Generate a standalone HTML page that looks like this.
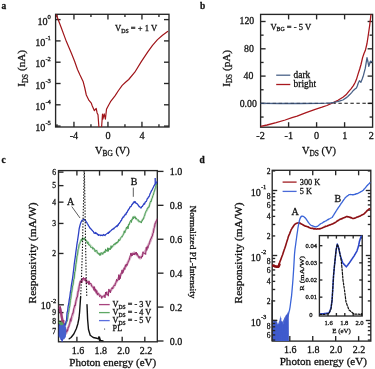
<!DOCTYPE html>
<html><head><meta charset="utf-8"><style>
html,body{margin:0;padding:0;background:#fff;width:375px;height:369px;overflow:hidden}
svg{display:block;font-family:"Liberation Serif",serif}
text{fill:#111;stroke:#111;stroke-width:0.28px}
svg{will-change:transform}
</style></head><body>
<svg width="375" height="369" viewBox="0 0 375 369">
<rect width="375" height="369" fill="#fff"/>
<rect x="55.60" y="14.30" width="113.40" height="112.70" fill="none" stroke="#262626" stroke-width="1.35"/>
<line x1="56.95" y1="127.00" x2="56.95" y2="124.20" stroke="#262626" stroke-width="1.35" />
<line x1="56.95" y1="14.30" x2="56.95" y2="17.10" stroke="#262626" stroke-width="1.35" />
<line x1="73.95" y1="127.00" x2="73.95" y2="121.80" stroke="#262626" stroke-width="1.35" />
<line x1="73.95" y1="14.30" x2="73.95" y2="19.50" stroke="#262626" stroke-width="1.35" />
<line x1="90.95" y1="127.00" x2="90.95" y2="124.20" stroke="#262626" stroke-width="1.35" />
<line x1="90.95" y1="14.30" x2="90.95" y2="17.10" stroke="#262626" stroke-width="1.35" />
<line x1="107.95" y1="127.00" x2="107.95" y2="121.80" stroke="#262626" stroke-width="1.35" />
<line x1="107.95" y1="14.30" x2="107.95" y2="19.50" stroke="#262626" stroke-width="1.35" />
<line x1="124.95" y1="127.00" x2="124.95" y2="124.20" stroke="#262626" stroke-width="1.35" />
<line x1="124.95" y1="14.30" x2="124.95" y2="17.10" stroke="#262626" stroke-width="1.35" />
<line x1="141.95" y1="127.00" x2="141.95" y2="121.80" stroke="#262626" stroke-width="1.35" />
<line x1="141.95" y1="14.30" x2="141.95" y2="19.50" stroke="#262626" stroke-width="1.35" />
<line x1="158.95" y1="127.00" x2="158.95" y2="124.20" stroke="#262626" stroke-width="1.35" />
<line x1="158.95" y1="14.30" x2="158.95" y2="17.10" stroke="#262626" stroke-width="1.35" />
<line x1="55.60" y1="19.60" x2="60.60" y2="19.60" stroke="#262626" stroke-width="1.35" />
<line x1="169.00" y1="19.60" x2="164.00" y2="19.60" stroke="#262626" stroke-width="1.35" />
<line x1="55.60" y1="40.90" x2="60.60" y2="40.90" stroke="#262626" stroke-width="1.35" />
<line x1="169.00" y1="40.90" x2="164.00" y2="40.90" stroke="#262626" stroke-width="1.35" />
<line x1="55.60" y1="62.20" x2="60.60" y2="62.20" stroke="#262626" stroke-width="1.35" />
<line x1="169.00" y1="62.20" x2="164.00" y2="62.20" stroke="#262626" stroke-width="1.35" />
<line x1="55.60" y1="83.50" x2="60.60" y2="83.50" stroke="#262626" stroke-width="1.35" />
<line x1="169.00" y1="83.50" x2="164.00" y2="83.50" stroke="#262626" stroke-width="1.35" />
<line x1="55.60" y1="104.80" x2="60.60" y2="104.80" stroke="#262626" stroke-width="1.35" />
<line x1="169.00" y1="104.80" x2="164.00" y2="104.80" stroke="#262626" stroke-width="1.35" />
<line x1="55.60" y1="126.10" x2="60.60" y2="126.10" stroke="#262626" stroke-width="1.35" />
<line x1="169.00" y1="126.10" x2="164.00" y2="126.10" stroke="#262626" stroke-width="1.35" />
<text x="50.9" y="24.60" font-size="10.2" text-anchor="end">10<tspan font-size="6.6" dy="-5.9">0</tspan></text>
<text x="50.9" y="45.90" font-size="10.2" text-anchor="end">10<tspan font-size="6.6" dy="-5.9">-1</tspan></text>
<text x="50.9" y="67.20" font-size="10.2" text-anchor="end">10<tspan font-size="6.6" dy="-5.9">-2</tspan></text>
<text x="50.9" y="88.50" font-size="10.2" text-anchor="end">10<tspan font-size="6.6" dy="-5.9">-3</tspan></text>
<text x="50.9" y="109.80" font-size="10.2" text-anchor="end">10<tspan font-size="6.6" dy="-5.9">-4</tspan></text>
<text x="50.9" y="131.10" font-size="10.2" text-anchor="end">10<tspan font-size="6.6" dy="-5.9">-5</tspan></text>
<text x="73.95" y="139.30" font-size="10.2" text-anchor="middle" >-4</text>
<text x="107.95" y="139.30" font-size="10.2" text-anchor="middle" >0</text>
<text x="141.95" y="139.30" font-size="10.2" text-anchor="middle" >4</text>
<text x="95.0" y="153.6" font-size="10.4">V<tspan font-size="7.4" dy="2.2">BG</tspan><tspan dy="-2.2"> (V)</tspan></text>
<text transform="translate(25.2,86.8) rotate(-90)" font-size="11.2">I<tspan font-size="7.2" dy="2.6">DS</tspan><tspan dy="-2.6"> (nA)</tspan></text>
<text x="115" y="31" font-size="8.6">V<tspan font-size="5.8" dy="1.6">DS</tspan><tspan dy="-1.6"> = + 1 V</tspan></text>
<text x="1.40" y="8.70" font-size="9.4" text-anchor="start" font-weight="bold" >a</text>
<clipPath id="ca"><rect x="55.6" y="14.3" width="113.4" height="112.7"/></clipPath>
<polyline points="56.30,14.80 61.00,27.00 66.40,41.60 71.30,53.00 74.50,61.00 77.50,69.50 80.00,75.00 83.10,81.40 84.80,88.00 86.30,95.00 89.00,100.40 91.30,103.10 92.20,105.70 94.40,110.70 96.20,108.40 97.10,112.90 98.00,114.70 98.90,127.00" fill="none" stroke="#a0151a" stroke-width="1.2" stroke-linejoin="round" stroke-linecap="round" clip-path="url(#ca)"/>
<polyline points="101.60,127.00 102.50,114.20 102.90,119.20 104.20,113.80 105.40,119.20 106.50,109.30 108.30,105.70 110.50,101.70 115.00,95.90 118.50,90.50 122.20,85.40 125.50,82.30 128.70,79.50 134.80,72.20 141.30,61.60 147.80,51.80 152.50,45.30 157.50,39.60 162.50,35.20 167.60,31.50" fill="none" stroke="#a0151a" stroke-width="1.2" stroke-linejoin="round" stroke-linecap="round" clip-path="url(#ca)"/>
<rect x="260.60" y="14.40" width="112.00" height="112.80" fill="none" stroke="#262626" stroke-width="1.35"/>
<line x1="288.60" y1="127.20" x2="288.60" y2="122.20" stroke="#262626" stroke-width="1.35" />
<line x1="288.60" y1="14.40" x2="288.60" y2="19.40" stroke="#262626" stroke-width="1.35" />
<line x1="316.60" y1="127.20" x2="316.60" y2="122.20" stroke="#262626" stroke-width="1.35" />
<line x1="316.60" y1="14.40" x2="316.60" y2="19.40" stroke="#262626" stroke-width="1.35" />
<line x1="344.60" y1="127.20" x2="344.60" y2="122.20" stroke="#262626" stroke-width="1.35" />
<line x1="344.60" y1="14.40" x2="344.60" y2="19.40" stroke="#262626" stroke-width="1.35" />
<line x1="260.60" y1="117.05" x2="263.60" y2="117.05" stroke="#262626" stroke-width="1.35" />
<line x1="372.60" y1="117.05" x2="369.60" y2="117.05" stroke="#262626" stroke-width="1.35" />
<line x1="260.60" y1="103.40" x2="265.60" y2="103.40" stroke="#262626" stroke-width="1.35" />
<line x1="372.60" y1="103.40" x2="367.60" y2="103.40" stroke="#262626" stroke-width="1.35" />
<line x1="260.60" y1="89.75" x2="263.60" y2="89.75" stroke="#262626" stroke-width="1.35" />
<line x1="372.60" y1="89.75" x2="369.60" y2="89.75" stroke="#262626" stroke-width="1.35" />
<line x1="260.60" y1="76.10" x2="265.60" y2="76.10" stroke="#262626" stroke-width="1.35" />
<line x1="372.60" y1="76.10" x2="367.60" y2="76.10" stroke="#262626" stroke-width="1.35" />
<line x1="260.60" y1="62.45" x2="263.60" y2="62.45" stroke="#262626" stroke-width="1.35" />
<line x1="372.60" y1="62.45" x2="369.60" y2="62.45" stroke="#262626" stroke-width="1.35" />
<line x1="260.60" y1="48.80" x2="265.60" y2="48.80" stroke="#262626" stroke-width="1.35" />
<line x1="372.60" y1="48.80" x2="367.60" y2="48.80" stroke="#262626" stroke-width="1.35" />
<line x1="260.60" y1="35.15" x2="263.60" y2="35.15" stroke="#262626" stroke-width="1.35" />
<line x1="372.60" y1="35.15" x2="369.60" y2="35.15" stroke="#262626" stroke-width="1.35" />
<line x1="260.60" y1="21.50" x2="265.60" y2="21.50" stroke="#262626" stroke-width="1.35" />
<line x1="372.60" y1="21.50" x2="367.60" y2="21.50" stroke="#262626" stroke-width="1.35" />
<text x="254.20" y="24.30" font-size="9.8" text-anchor="end" >120</text>
<text x="253.80" y="51.60" font-size="9.8" text-anchor="end" >80</text>
<text x="253.40" y="79.40" font-size="9.8" text-anchor="end" >40</text>
<text x="256.80" y="106.70" font-size="9.8" text-anchor="end" >0.00</text>
<text x="260.60" y="139.30" font-size="10.2" text-anchor="middle" >-2</text>
<text x="288.80" y="139.30" font-size="10.2" text-anchor="middle" >-1</text>
<text x="316.60" y="139.30" font-size="10.2" text-anchor="middle" >0</text>
<text x="344.80" y="139.30" font-size="10.2" text-anchor="middle" >1</text>
<text x="371.20" y="139.30" font-size="10.2" text-anchor="middle" >2</text>
<text x="302.0" y="153.8" font-size="10.4">V<tspan font-size="7.4" dy="2.2">DS</tspan><tspan dy="-2.2"> (V)</tspan></text>
<text transform="translate(229.8,86.8) rotate(-90)" font-size="11.2">I<tspan font-size="7.2" dy="2.6">DS</tspan><tspan dy="-2.6"> (pA)</tspan></text>
<text x="270.4" y="29.6" font-size="8.6">V<tspan font-size="5.8" dy="1.6">BG</tspan><tspan dy="-1.6"> = - 5 V</tspan></text>
<text x="200.00" y="9.10" font-size="9.4" text-anchor="start" font-weight="bold" >b</text>
<line x1="276.20" y1="75.20" x2="290.30" y2="75.20" stroke="#4a6288" stroke-width="1.3" />
<line x1="276.20" y1="84.50" x2="290.30" y2="84.50" stroke="#a8181e" stroke-width="1.3" />
<text x="293.60" y="77.80" font-size="9.4" text-anchor="start" >dark</text>
<text x="293.60" y="86.90" font-size="9.4" text-anchor="start" >bright</text>
<clipPath id="cb"><rect x="260.6" y="14.4" width="112" height="112.8"/></clipPath>
<polyline points="260.50,126.40 267.10,125.00 276.10,122.70 285.20,120.00 292.00,117.70 297.10,116.20 306.10,112.60 315.20,109.30 322.00,107.20 326.90,105.50 333.20,102.70 338.00,100.30 342.90,97.20 346.00,94.80 348.60,91.60 351.00,88.80 353.40,85.60 355.00,82.80 356.40,79.60 358.20,73.60 359.70,69.00 361.00,64.50 362.60,57.60 364.00,53.50 365.30,50.60 367.00,43.50 368.30,35.00 369.60,26.00 370.80,15.80 371.30,12.00" fill="none" stroke="#a8181e" stroke-width="1.3" stroke-linejoin="round" stroke-linecap="round" clip-path="url(#cb)"/>
<polyline points="260.50,103.40 280.00,103.50 300.00,103.50 320.00,103.30 326.00,103.20 330.40,103.00 334.00,102.40 337.30,101.70 340.00,100.90 342.90,100.00 346.00,97.90 347.80,96.40 349.80,94.60 351.60,92.60 353.40,90.40 355.00,89.00 356.40,88.00 357.30,86.00 358.20,83.20 359.40,80.80 360.20,81.50 360.90,82.30 362.20,79.00 363.50,75.20 365.30,68.20 367.00,57.60 368.00,62.00 368.80,66.40 370.50,61.10 372.60,62.00" fill="none" stroke="#4a6288" stroke-width="1.3" stroke-linejoin="round" stroke-linecap="round" clip-path="url(#cb)"/>
<line x1="260.60" y1="103.30" x2="334.00" y2="103.30" stroke="#1a2233" stroke-width="1.1" stroke-dasharray="3.4,2.6" stroke-opacity="0.55"/>
<line x1="334.00" y1="103.30" x2="372.60" y2="103.30" stroke="#111" stroke-width="1.1" stroke-dasharray="3.4,2.6" stroke-dashoffset="1.6"/>
<rect x="58.50" y="170.60" width="98.80" height="171.20" fill="none" stroke="#262626" stroke-width="1.35"/>
<line x1="76.90" y1="341.80" x2="76.90" y2="336.80" stroke="#262626" stroke-width="1.35" />
<line x1="76.90" y1="170.60" x2="76.90" y2="175.60" stroke="#262626" stroke-width="1.35" />
<text x="78.10" y="353.50" font-size="10.0" text-anchor="middle" >1.6</text>
<line x1="99.54" y1="341.80" x2="99.54" y2="336.80" stroke="#262626" stroke-width="1.35" />
<line x1="99.54" y1="170.60" x2="99.54" y2="175.60" stroke="#262626" stroke-width="1.35" />
<text x="100.74" y="353.50" font-size="10.0" text-anchor="middle" >1.8</text>
<line x1="122.18" y1="341.80" x2="122.18" y2="336.80" stroke="#262626" stroke-width="1.35" />
<line x1="122.18" y1="170.60" x2="122.18" y2="175.60" stroke="#262626" stroke-width="1.35" />
<text x="123.38" y="353.50" font-size="10.0" text-anchor="middle" >2.0</text>
<line x1="144.82" y1="341.80" x2="144.82" y2="336.80" stroke="#262626" stroke-width="1.35" />
<line x1="144.82" y1="170.60" x2="144.82" y2="175.60" stroke="#262626" stroke-width="1.35" />
<text x="146.02" y="353.50" font-size="10.0" text-anchor="middle" >2.2</text>
<line x1="58.50" y1="172.13" x2="63.50" y2="172.13" stroke="#262626" stroke-width="1.35" />
<text x="56.00" y="174.73" font-size="7.6" text-anchor="end" >6</text>
<line x1="58.50" y1="185.63" x2="63.50" y2="185.63" stroke="#262626" stroke-width="1.35" />
<text x="56.00" y="188.23" font-size="7.6" text-anchor="end" >5</text>
<line x1="58.50" y1="202.15" x2="63.50" y2="202.15" stroke="#262626" stroke-width="1.35" />
<text x="56.00" y="204.75" font-size="7.6" text-anchor="end" >4</text>
<line x1="58.50" y1="223.45" x2="63.50" y2="223.45" stroke="#262626" stroke-width="1.35" />
<text x="56.00" y="226.05" font-size="7.6" text-anchor="end" >3</text>
<line x1="58.50" y1="253.47" x2="63.50" y2="253.47" stroke="#262626" stroke-width="1.35" />
<text x="56.00" y="256.07" font-size="7.6" text-anchor="end" >2</text>
<line x1="58.50" y1="312.60" x2="63.50" y2="312.60" stroke="#262626" stroke-width="1.35" />
<text x="56.00" y="315.20" font-size="7.6" text-anchor="end" >9</text>
<line x1="58.50" y1="321.32" x2="63.50" y2="321.32" stroke="#262626" stroke-width="1.35" />
<text x="56.00" y="323.92" font-size="7.6" text-anchor="end" >8</text>
<line x1="58.50" y1="331.21" x2="63.50" y2="331.21" stroke="#262626" stroke-width="1.35" />
<text x="56.00" y="333.81" font-size="7.6" text-anchor="end" >7</text>
<line x1="58.50" y1="304.80" x2="63.90" y2="304.80" stroke="#262626" stroke-width="1.35" />
<text x="56.2" y="309.40" font-size="10" text-anchor="end">10<tspan font-size="6.6" dy="-6.3">-2</tspan></text>
<line x1="157.30" y1="341.00" x2="163.50" y2="341.00" stroke="#262626" stroke-width="1.35" />
<text x="169.80" y="344.50" font-size="10.0" text-anchor="start" >0.0</text>
<line x1="157.30" y1="307.08" x2="163.50" y2="307.08" stroke="#262626" stroke-width="1.35" />
<text x="169.80" y="310.58" font-size="10.0" text-anchor="start" >0.2</text>
<line x1="157.30" y1="273.16" x2="163.50" y2="273.16" stroke="#262626" stroke-width="1.35" />
<text x="169.80" y="276.66" font-size="10.0" text-anchor="start" >0.4</text>
<line x1="157.30" y1="239.24" x2="163.50" y2="239.24" stroke="#262626" stroke-width="1.35" />
<text x="169.80" y="242.74" font-size="10.0" text-anchor="start" >0.6</text>
<line x1="157.30" y1="205.32" x2="163.50" y2="205.32" stroke="#262626" stroke-width="1.35" />
<text x="169.80" y="208.82" font-size="10.0" text-anchor="start" >0.8</text>
<line x1="157.30" y1="171.40" x2="163.50" y2="171.40" stroke="#262626" stroke-width="1.35" />
<text x="169.80" y="174.90" font-size="10.0" text-anchor="start" >1.0</text>
<text transform="translate(35.9,303.4) rotate(-90)" font-size="9.7" textLength="101" lengthAdjust="spacingAndGlyphs">Responsivity (mA/W)</text>
<text transform="translate(189.6,205.4) rotate(90)" font-size="9" textLength="93" lengthAdjust="spacingAndGlyphs">Normalized PL-Intensity</text>
<text x="69.3" y="365.5" font-size="10.4" textLength="86.9" lengthAdjust="spacingAndGlyphs">Photon energy (eV)</text>
<text x="1.40" y="163.20" font-size="9.4" text-anchor="start" font-weight="bold" >c</text>
<text x="67.00" y="204.60" font-size="10.0" text-anchor="start" >A</text>
<line x1="71.80" y1="206.60" x2="80.00" y2="218.00" stroke="#333" stroke-width="0.8" />
<text x="130.80" y="184.60" font-size="10.0" text-anchor="start" >B</text>
<line x1="133.30" y1="187.60" x2="133.30" y2="196.80" stroke="#333" stroke-width="0.8" />
<line x1="99.00" y1="304.60" x2="109.70" y2="304.60" stroke="#a8447e" stroke-width="1.3" />
<text x="112.6" y="307.10" font-size="8.2">V<tspan font-size="5.6" dy="1.6">DS</tspan><tspan dy="-1.6"> = - 3 V</tspan></text>
<line x1="99.00" y1="312.60" x2="109.70" y2="312.60" stroke="#5ea864" stroke-width="1.3" />
<text x="112.6" y="315.10" font-size="8.2">V<tspan font-size="5.6" dy="1.6">DS</tspan><tspan dy="-1.6"> = - 4 V</tspan></text>
<line x1="99.00" y1="320.60" x2="109.70" y2="320.60" stroke="#5a6ede" stroke-width="1.3" />
<text x="112.6" y="323.10" font-size="8.2">V<tspan font-size="5.6" dy="1.6">DS</tspan><tspan dy="-1.6"> = - 5 V</tspan></text>
<circle cx="104.6" cy="329" r="0.6" fill="#222"/>
<text x="112.60" y="331.00" font-size="8.2" text-anchor="start" >PL</text>
<clipPath id="cc"><rect x="58.5" y="170.6" width="98.8" height="171.2"/></clipPath>
<polyline points="58.80,306.25 59.35,306.94 59.90,307.78 60.45,309.31 61.00,311.87 61.55,315.25 62.10,318.00 62.65,320.67 63.20,323.11 63.75,325.75 64.30,328.50 64.85,331.10 65.40,332.25 65.95,333.40 66.50,332.17 67.05,330.70 67.60,329.24 68.15,327.80 68.70,326.36 69.25,324.89 69.80,323.40 70.35,321.92 70.90,320.38 71.45,318.60 72.00,316.81 72.55,315.03 73.10,313.08 73.65,310.83 74.20,308.57 74.75,306.32 75.30,304.08 75.85,301.85 76.40,299.63 76.95,297.35 77.50,294.58 78.05,291.81 78.60,289.04 79.15,286.27 79.70,283.79 80.25,282.65 80.80,281.50 81.35,281.06 81.90,280.62 82.45,280.24 83.00,280.02 83.55,279.80 84.10,279.58 84.65,279.36 85.20,279.63 85.75,280.07 86.30,280.52 86.85,280.97 87.40,281.42 87.95,281.89 88.50,282.37 89.05,282.84 89.60,283.32 90.15,283.80 90.70,284.35 91.25,285.05 91.80,285.74 92.35,286.43 92.90,287.13 93.45,287.82 94.00,288.52 94.55,289.21 95.10,289.90 95.65,290.60 96.20,291.29 96.75,291.98 97.30,292.60 97.85,293.15 98.40,293.70 98.95,294.25 99.50,294.80 100.05,295.35 100.60,295.90 101.15,296.45 101.70,297.00 102.25,296.96 102.80,296.59 103.35,296.22 103.90,295.85 104.45,295.48 105.00,295.11 105.55,294.74 106.10,294.37 106.65,294.00 107.20,293.54 107.75,293.04 108.30,292.54 108.85,292.04 109.40,291.54 109.95,291.05 110.50,290.45 111.05,289.85 111.60,289.25 112.15,288.65 112.70,288.05 113.25,287.45 113.80,286.52 114.35,285.55 114.90,284.58 115.45,283.62 116.00,282.65 116.55,281.68 117.10,280.71 117.65,279.74 118.20,278.78 118.75,277.86 119.30,276.95 119.85,276.04 120.40,275.14 120.95,274.23 121.50,273.32 122.05,272.42 122.60,271.52 123.15,270.63 123.70,269.73 124.25,268.84 124.80,267.94 125.35,267.05 125.90,266.15 126.45,265.19 127.00,264.07 127.55,262.95 128.10,261.83 128.65,260.71 129.20,259.57 129.75,258.38 130.30,257.18 130.85,255.99 131.40,254.80 131.95,254.31 132.50,253.83 133.05,253.34 133.60,252.85 134.15,252.61 134.70,253.02 135.25,253.44 135.80,253.85 136.35,254.35 136.90,254.90 137.45,255.45 138.00,256.00 138.55,256.57 139.10,257.15 139.65,257.72 140.20,258.29 140.75,257.89 141.30,256.94 141.85,255.99 142.40,255.04 142.95,254.09 143.50,253.36 144.05,252.65 144.60,251.94 145.15,251.24 145.70,250.53 146.25,249.49 146.80,248.38 147.35,247.26 147.90,246.15 148.45,245.04 149.00,243.93 149.55,242.81 150.10,241.70 150.65,240.21 151.20,238.71 151.75,237.22 152.30,235.57 152.85,233.18 153.40,230.80 153.95,228.66 154.50,226.51 155.05,224.37 155.60,222.68 156.15,221.81 156.70,220.89 157.25,219.74" fill="none" stroke="#a03a74" stroke-width="2.6" stroke-linejoin="round" stroke-linecap="round" stroke-opacity="0.4" clip-path="url(#cc)"/>
<polyline points="58.80,308.62 59.35,307.62 59.90,312.17 60.45,306.67 61.00,313.42 61.55,312.81 62.10,320.76 62.65,319.92 63.20,326.19 63.75,320.02 64.30,333.46 64.85,328.76 65.40,335.08 65.95,330.82 66.50,332.17 67.05,329.56 67.60,331.24 68.15,327.12 68.70,327.29 69.25,324.81 69.80,323.22 70.35,318.69 70.90,321.35 71.45,316.68 72.00,315.36 72.55,313.06 73.10,313.48 73.65,308.90 74.20,307.75 74.75,304.94 75.30,305.70 75.85,301.24 76.40,299.14 76.95,296.90 77.50,297.01 78.05,291.07 78.60,291.28 79.15,286.51 79.70,284.02 80.25,280.81 80.80,282.50 81.35,280.12 81.90,282.95 82.45,278.01 83.00,279.87 83.55,277.36 84.10,278.80 84.65,278.63 85.20,281.10 85.75,277.92 86.30,283.75 86.85,281.53 87.40,282.69 87.95,281.59 88.50,284.48 89.05,280.83 89.60,284.45 90.15,283.92 90.70,283.05 91.25,284.20 91.80,286.54 92.35,287.01 92.90,286.98 93.45,286.90 94.00,290.37 94.55,286.67 95.10,291.41 95.65,289.02 96.20,293.39 96.75,290.52 97.30,295.18 97.85,293.09 98.40,294.00 98.95,293.95 99.50,296.74 100.05,296.33 100.60,295.37 101.15,296.02 101.70,298.45 102.25,296.38 102.80,296.86 103.35,296.30 103.90,295.90 104.45,295.08 105.00,297.86 105.55,292.02 106.10,294.56 106.65,291.74 107.20,295.07 107.75,294.12 108.30,296.17 108.85,288.95 109.40,291.75 109.95,290.33 110.50,292.88 111.05,289.42 111.60,288.88 112.15,287.49 112.70,288.98 113.25,286.47 113.80,286.17 114.35,284.94 114.90,285.78 115.45,283.02 116.00,282.74 116.55,279.32 117.10,281.20 117.65,280.21 118.20,280.02 118.75,274.64 119.30,280.07 119.85,275.34 120.40,278.60 120.95,273.32 121.50,273.60 122.05,269.85 122.60,273.49 123.15,272.37 123.70,269.38 124.25,267.70 124.80,269.57 125.35,264.81 125.90,266.70 126.45,263.99 127.00,265.47 127.55,263.74 128.10,262.19 128.65,260.74 129.20,260.06 129.75,257.34 130.30,255.47 130.85,252.93 131.40,256.10 131.95,253.25 132.50,255.61 133.05,253.38 133.60,254.85 134.15,253.10 134.70,255.05 135.25,252.55 135.80,254.05 136.35,252.02 136.90,255.10 137.45,253.54 138.00,256.40 138.55,256.14 139.10,258.26 139.65,256.59 140.20,256.80 140.75,257.42 141.30,258.24 141.85,256.17 142.40,257.01 142.95,251.77 143.50,253.26 144.05,253.90 144.60,253.74 145.15,252.84 145.70,254.54 146.25,247.23 146.80,250.37 147.35,246.44 147.90,248.32 148.45,245.20 149.00,244.51 149.55,242.45 150.10,240.74 150.65,238.81 151.20,238.70 151.75,236.40 152.30,236.30 152.85,233.52 153.40,232.97 153.95,228.64 154.50,227.53 155.05,223.23 155.60,223.34 156.15,220.78 156.70,220.99 157.25,218.82" fill="none" stroke="#98306e" stroke-width="1.0" stroke-linejoin="round" stroke-linecap="round" clip-path="url(#cc)"/>
<polyline points="58.80,321.24 59.35,321.91 59.90,322.57 60.45,323.24 61.00,323.56 61.55,323.85 62.10,324.13 62.65,324.42 63.20,324.93 63.75,325.52 64.30,325.95 64.85,325.68 65.40,325.40 65.95,323.78 66.50,322.17 67.05,320.43 67.60,317.44 68.15,314.44 68.70,311.45 69.25,308.46 69.80,305.08 70.35,301.36 70.90,297.65 71.45,293.94 72.00,290.67 72.55,287.44 73.10,284.22 73.65,281.04 74.20,277.86 74.75,274.06 75.30,269.90 75.85,265.74 76.40,261.75 76.95,258.04 77.50,254.33 78.05,250.61 78.60,247.96 79.15,245.71 79.70,243.45 80.25,241.34 80.80,240.69 81.35,240.04 81.90,239.39 82.45,238.73 83.00,238.27 83.55,238.68 84.10,239.09 84.65,239.50 85.20,239.91 85.75,240.31 86.30,240.83 86.85,241.44 87.40,242.06 87.95,242.67 88.50,243.28 89.05,243.89 89.60,244.50 90.15,245.11 90.70,245.72 91.25,246.33 91.80,246.94 92.35,247.56 92.90,248.17 93.45,248.78 94.00,249.39 94.55,250.00 95.10,250.59 95.65,251.08 96.20,251.58 96.75,252.07 97.30,252.57 97.85,253.06 98.40,253.33 98.95,253.51 99.50,253.68 100.05,253.86 100.60,254.04 101.15,254.16 101.70,253.75 102.25,253.34 102.80,252.93 103.35,252.51 103.90,252.10 104.45,251.72 105.00,251.42 105.55,251.12 106.10,250.82 106.65,250.52 107.20,250.22 107.75,249.92 108.30,249.62 108.85,249.28 109.40,248.86 109.95,248.44 110.50,248.02 111.05,247.60 111.60,247.17 112.15,246.75 112.70,246.33 113.25,245.88 113.80,245.39 114.35,244.91 114.90,244.42 115.45,243.93 116.00,243.45 116.55,242.96 117.10,242.48 117.65,241.87 118.20,241.20 118.75,240.52 119.30,239.85 119.85,239.17 120.40,238.50 120.95,237.82 121.50,237.15 122.05,236.31 122.60,235.38 123.15,234.45 123.70,233.53 124.25,232.60 124.80,231.67 125.35,230.73 125.90,229.79 126.45,228.85 127.00,227.91 127.55,226.97 128.10,226.03 128.65,225.09 129.20,224.17 129.75,223.25 130.30,222.33 130.85,221.42 131.40,220.50 131.95,219.66 132.50,218.90 133.05,218.15 133.60,217.40 134.15,216.64 134.70,216.67 135.25,217.35 135.80,218.02 136.35,218.70 136.90,219.38 137.45,219.99 138.00,220.59 138.55,221.18 139.10,221.78 139.65,222.00 140.20,222.00 140.75,222.00 141.30,221.32 141.85,220.57 142.40,219.82 142.95,219.07 143.50,218.32 144.05,217.57 144.60,215.25 145.15,213.44 145.70,212.44 146.25,211.44 146.80,210.43 147.35,209.43 147.90,208.43 148.45,207.42 149.00,206.33 149.55,204.83 150.10,203.33 150.65,201.83 151.20,200.33 151.75,198.83 152.30,197.30 152.85,195.62 153.40,193.95 153.95,192.28 154.50,190.60 155.05,189.24 155.60,187.95 156.15,186.65 156.70,185.59 157.25,184.62" fill="none" stroke="#4e9a56" stroke-width="2.2" stroke-linejoin="round" stroke-linecap="round" stroke-opacity="0.3" clip-path="url(#cc)"/>
<polyline points="58.80,322.56 59.35,322.35 59.90,325.36 60.45,322.23 61.00,327.50 61.55,321.22 62.10,323.85 62.65,321.68 63.20,325.57 63.75,325.67 64.30,326.84 64.85,324.54 65.40,324.32 65.95,323.36 66.50,322.49 67.05,321.41 67.60,319.58 68.15,314.82 68.70,312.25 69.25,308.45 69.80,305.96 70.35,300.67 70.90,298.25 71.45,293.24 72.00,290.76 72.55,286.04 73.10,284.92 73.65,279.52 74.20,278.68 74.75,271.77 75.30,271.32 75.85,264.30 76.40,262.20 76.95,256.03 77.50,255.16 78.05,249.67 78.60,248.42 79.15,244.51 79.70,243.76 80.25,242.26 80.80,241.45 81.35,239.14 81.90,241.01 82.45,237.69 83.00,239.70 83.55,238.44 84.10,239.64 84.65,237.68 85.20,240.13 85.75,239.88 86.30,241.12 86.85,241.17 87.40,243.68 87.95,241.85 88.50,245.17 89.05,244.33 89.60,245.61 90.15,245.46 90.70,247.55 91.25,247.66 91.80,247.31 92.35,247.21 92.90,249.30 93.45,247.78 94.00,248.43 94.55,248.99 95.10,251.77 95.65,250.44 96.20,250.70 96.75,249.93 97.30,253.10 97.85,252.65 98.40,254.23 98.95,253.20 99.50,255.42 100.05,253.43 100.60,255.38 101.15,252.41 101.70,253.28 102.25,253.12 102.80,254.47 103.35,252.47 103.90,253.11 104.45,251.34 105.00,252.86 105.55,248.92 106.10,251.12 106.65,249.97 107.20,251.46 107.75,247.70 108.30,251.40 108.85,248.05 109.40,249.58 109.95,248.41 110.50,249.63 111.05,245.63 111.60,248.23 112.15,246.00 112.70,246.53 113.25,245.04 113.80,244.15 114.35,243.75 114.90,244.91 115.45,242.85 116.00,243.92 116.55,242.05 117.10,243.17 117.65,241.72 118.20,242.13 118.75,239.35 119.30,240.97 119.85,240.38 120.40,238.47 120.95,237.53 121.50,236.55 122.05,237.15 122.60,236.22 123.15,234.48 123.70,234.31 124.25,230.82 124.80,232.84 125.35,230.75 125.90,229.81 126.45,227.16 127.00,228.49 127.55,226.23 128.10,228.83 128.65,224.10 129.20,224.73 129.75,222.18 130.30,221.27 130.85,220.17 131.40,222.49 131.95,219.01 132.50,219.45 133.05,216.70 133.60,218.80 134.15,216.66 134.70,217.81 135.25,216.75 135.80,219.18 136.35,218.09 136.90,219.52 137.45,220.01 138.00,219.47 138.55,219.87 139.10,221.99 139.65,221.28 140.20,221.73 140.75,221.66 141.30,223.08 141.85,220.53 142.40,220.85 142.95,218.79 143.50,219.14 144.05,216.42 144.60,215.98 145.15,213.64 145.70,212.16 146.25,210.51 146.80,210.55 147.35,207.92 147.90,208.38 148.45,206.97 149.00,207.43 149.55,204.77 150.10,202.66 150.65,200.98 151.20,201.61 151.75,198.72 152.30,198.08 152.85,195.54 153.40,195.13 153.95,192.39 154.50,190.98 155.05,188.85 155.60,187.68 156.15,183.82 156.70,184.67 157.25,185.55" fill="none" stroke="#4a9a52" stroke-width="0.95" stroke-linejoin="round" stroke-linecap="round" clip-path="url(#cc)"/>
<polyline points="58.80,336.04 59.35,324.69 59.90,336.19 60.45,332.04 61.00,339.23 61.55,334.79 62.10,342.06 62.65,334.35 63.20,336.94 63.75,334.55 64.30,332.13 64.85,323.67 65.40,325.00 65.95,321.49 66.50,320.60 67.05,312.79 67.60,311.07 68.15,306.18 68.70,304.01 69.25,299.56 69.80,296.79 70.35,292.39 70.90,289.13 71.45,284.78 72.00,281.60 72.55,278.33 73.10,274.01 73.65,269.62 74.20,264.50 74.75,260.35 75.30,256.86 75.85,252.10 76.40,248.35 76.95,244.05 77.50,240.89 78.05,237.18 78.60,233.47 79.15,228.87 79.70,226.52 80.25,224.40 80.80,222.74 81.35,221.41 81.90,220.54 82.45,220.01 83.00,219.85 83.55,219.29 84.10,219.70 84.65,219.42 85.20,220.71 85.75,220.96 86.30,221.94 86.85,222.61 87.40,223.79 87.95,224.46 88.50,225.80 89.05,226.34 89.60,227.43 90.15,228.27 90.70,228.85 91.25,229.08 91.80,230.03 92.35,230.49 92.90,231.17 93.45,231.61 94.00,233.04 94.55,232.89 95.10,233.43 95.65,232.54 96.20,233.63 96.75,233.41 97.30,234.26 97.85,234.25 98.40,235.44 98.95,234.66 99.50,235.08 100.05,235.12 100.60,235.61 101.15,235.05 101.70,235.39 102.25,235.31 102.80,235.68 103.35,234.47 103.90,234.97 104.45,235.21 105.00,235.57 105.55,234.51 106.10,234.19 106.65,233.82 107.20,233.47 107.75,232.95 108.30,233.38 108.85,232.13 109.40,232.40 109.95,231.17 110.50,231.18 111.05,230.59 111.60,230.04 112.15,229.33 112.70,229.36 113.25,228.54 113.80,228.93 114.35,227.85 114.90,227.42 115.45,226.94 116.00,226.73 116.55,225.83 117.10,226.51 117.65,224.98 118.20,225.26 118.75,223.63 119.30,223.59 119.85,222.38 120.40,221.87 120.95,220.60 121.50,220.42 122.05,218.51 122.60,218.11 123.15,216.81 123.70,217.14 124.25,215.65 124.80,215.16 125.35,214.06 125.90,214.57 126.45,212.74 127.00,212.60 127.55,211.06 128.10,210.52 128.65,209.02 129.20,208.95 129.75,207.58 130.30,206.63 130.85,206.69 131.40,205.84 131.95,204.43 132.50,204.26 133.05,202.88 133.60,203.01 134.15,201.53 134.70,202.49 135.25,201.69 135.80,202.93 136.35,203.40 136.90,203.69 137.45,203.99 138.00,205.02 138.55,205.55 139.10,206.62 139.65,206.64 140.20,207.36 140.75,207.95 141.30,207.79 141.85,206.60 142.40,206.48 142.95,205.33 143.50,204.68 144.05,203.52 144.60,203.99 145.15,202.30 145.70,201.73 146.25,201.42 146.80,200.16 147.35,198.51 147.90,198.36 148.45,196.97 149.00,196.81 149.55,195.43 150.10,193.62 150.65,192.75 151.20,191.36 151.75,190.36 152.30,189.58 152.85,188.11 153.40,187.29 153.95,185.97 154.50,185.10 155.05,184.20 155.60,184.01 156.15,182.52 156.70,182.78 157.25,181.21" fill="none" stroke="#2c40c4" stroke-width="1.3" stroke-linejoin="round" stroke-linecap="round" clip-path="url(#cc)"/>
<polyline points="59.80,307.50 60.60,311.00 61.40,315.50 62.30,320.00 63.20,324.50" fill="none" stroke="#a03a74" stroke-width="2.3" stroke-linejoin="round" stroke-linecap="round" stroke-opacity="0.85" clip-path="url(#cc)"/>
<polygon points="59.3,326 61,324.3 62.8,323.8 64.5,325 66,327.5 66.4,331 65.8,337 64,339.6 61.5,339.2 59.3,337.5" fill="#4660cc" clip-path="url(#cc)"/>
<ellipse cx="61.5" cy="323.8" rx="2" ry="1.5" fill="#58a060" clip-path="url(#cc)"/>
<polyline points="69.20,338.80 71.00,337.50 73.80,334.00 76.30,328.80 77.80,324.00 79.00,318.00 79.60,312.00 80.60,297.00" fill="none" stroke="#111" stroke-width="1.4" stroke-linejoin="round" stroke-linecap="round" clip-path="url(#cc)"/>
<polyline points="87.00,304.60 87.60,319.20 88.50,329.50 90.20,335.30 93.20,337.50 96.80,338.20 98.30,339.00 99.00,336.80 100.50,340.40 103.00,341.00" fill="none" stroke="#111" stroke-width="1.4" stroke-linejoin="round" stroke-linecap="round" clip-path="url(#cc)"/>
<g fill="#111" clip-path="url(#cc)"><rect x="83.55" y="171.20" width="1.1" height="1.4"/><rect x="83.50" y="174.10" width="1.1" height="1.4"/><rect x="83.46" y="177.00" width="1.1" height="1.4"/><rect x="83.41" y="179.90" width="1.1" height="1.4"/><rect x="83.36" y="182.80" width="1.1" height="1.4"/><rect x="83.32" y="185.70" width="1.1" height="1.4"/><rect x="83.27" y="188.60" width="1.1" height="1.4"/><rect x="83.21" y="191.50" width="1.1" height="1.4"/><rect x="83.14" y="194.40" width="1.1" height="1.4"/><rect x="83.06" y="197.30" width="1.1" height="1.4"/><rect x="82.99" y="200.20" width="1.1" height="1.4"/><rect x="82.91" y="203.10" width="1.1" height="1.4"/><rect x="82.84" y="206.00" width="1.1" height="1.4"/><rect x="82.76" y="208.90" width="1.1" height="1.4"/><rect x="82.69" y="211.80" width="1.1" height="1.4"/><rect x="82.61" y="214.70" width="1.1" height="1.4"/><rect x="82.54" y="217.60" width="1.1" height="1.4"/><rect x="82.47" y="220.50" width="1.1" height="1.4"/><rect x="82.39" y="223.40" width="1.1" height="1.4"/><rect x="82.32" y="226.30" width="1.1" height="1.4"/><rect x="82.27" y="229.20" width="1.1" height="1.4"/><rect x="82.21" y="232.10" width="1.1" height="1.4"/><rect x="82.15" y="235.00" width="1.1" height="1.4"/><rect x="82.09" y="237.90" width="1.1" height="1.4"/><rect x="82.03" y="240.80" width="1.1" height="1.4"/><rect x="81.98" y="243.70" width="1.1" height="1.4"/><rect x="81.92" y="246.60" width="1.1" height="1.4"/><rect x="81.86" y="249.50" width="1.1" height="1.4"/><rect x="81.77" y="252.40" width="1.1" height="1.4"/><rect x="81.67" y="255.30" width="1.1" height="1.4"/><rect x="81.57" y="258.20" width="1.1" height="1.4"/><rect x="81.47" y="261.10" width="1.1" height="1.4"/><rect x="81.37" y="264.00" width="1.1" height="1.4"/><rect x="81.27" y="266.90" width="1.1" height="1.4"/><rect x="81.17" y="269.80" width="1.1" height="1.4"/><rect x="81.07" y="272.70" width="1.1" height="1.4"/><rect x="80.97" y="275.60" width="1.1" height="1.4"/><rect x="80.87" y="278.50" width="1.1" height="1.4"/><rect x="80.77" y="281.40" width="1.1" height="1.4"/><rect x="80.64" y="284.30" width="1.1" height="1.4"/><rect x="80.51" y="287.20" width="1.1" height="1.4"/><rect x="80.37" y="290.10" width="1.1" height="1.4"/><rect x="80.24" y="293.00" width="1.1" height="1.4"/><rect x="80.10" y="295.90" width="1.1" height="1.4"/><rect x="83.88" y="172.65" width="1.1" height="1.4"/><rect x="83.93" y="175.55" width="1.1" height="1.4"/><rect x="83.97" y="178.45" width="1.1" height="1.4"/><rect x="84.02" y="181.35" width="1.1" height="1.4"/><rect x="84.07" y="184.25" width="1.1" height="1.4"/><rect x="84.12" y="187.15" width="1.1" height="1.4"/><rect x="84.17" y="190.05" width="1.1" height="1.4"/><rect x="84.22" y="192.95" width="1.1" height="1.4"/><rect x="84.26" y="195.85" width="1.1" height="1.4"/><rect x="84.31" y="198.75" width="1.1" height="1.4"/><rect x="84.36" y="201.65" width="1.1" height="1.4"/><rect x="84.41" y="204.55" width="1.1" height="1.4"/><rect x="84.46" y="207.45" width="1.1" height="1.4"/><rect x="84.51" y="210.35" width="1.1" height="1.4"/><rect x="84.55" y="213.25" width="1.1" height="1.4"/><rect x="84.60" y="216.15" width="1.1" height="1.4"/><rect x="84.65" y="219.05" width="1.1" height="1.4"/><rect x="84.70" y="221.95" width="1.1" height="1.4"/><rect x="84.75" y="224.85" width="1.1" height="1.4"/><rect x="84.79" y="227.75" width="1.1" height="1.4"/><rect x="84.84" y="230.65" width="1.1" height="1.4"/><rect x="84.89" y="233.55" width="1.1" height="1.4"/><rect x="84.93" y="236.45" width="1.1" height="1.4"/><rect x="84.98" y="239.35" width="1.1" height="1.4"/><rect x="85.03" y="242.25" width="1.1" height="1.4"/><rect x="85.07" y="245.15" width="1.1" height="1.4"/><rect x="85.12" y="248.05" width="1.1" height="1.4"/><rect x="85.17" y="250.95" width="1.1" height="1.4"/><rect x="85.22" y="253.85" width="1.1" height="1.4"/><rect x="85.28" y="256.75" width="1.1" height="1.4"/><rect x="85.33" y="259.65" width="1.1" height="1.4"/><rect x="85.39" y="262.55" width="1.1" height="1.4"/><rect x="85.44" y="265.45" width="1.1" height="1.4"/><rect x="85.49" y="268.35" width="1.1" height="1.4"/><rect x="85.55" y="271.25" width="1.1" height="1.4"/><rect x="85.60" y="274.15" width="1.1" height="1.4"/><rect x="85.66" y="277.05" width="1.1" height="1.4"/><rect x="85.71" y="279.95" width="1.1" height="1.4"/><rect x="85.78" y="282.85" width="1.1" height="1.4"/><rect x="85.89" y="285.75" width="1.1" height="1.4"/><rect x="86.00" y="288.65" width="1.1" height="1.4"/><rect x="86.09" y="291.55" width="1.1" height="1.4"/><rect x="86.17" y="294.45" width="1.1" height="1.4"/></g>
<polyline points="155.00,183.50 155.20,178.00 155.50,183.00" fill="none" stroke="#2c40c4" stroke-width="0.9" stroke-linejoin="round" stroke-linecap="round" clip-path="url(#cc)"/>
<rect x="272.20" y="170.30" width="98.60" height="170.80" fill="none" stroke="#262626" stroke-width="1.35"/>
<line x1="289.80" y1="341.10" x2="289.80" y2="336.10" stroke="#262626" stroke-width="1.35" />
<line x1="289.80" y1="170.30" x2="289.80" y2="175.30" stroke="#262626" stroke-width="1.35" />
<text x="290.20" y="353.30" font-size="10.0" text-anchor="middle" >1.6</text>
<line x1="312.74" y1="341.10" x2="312.74" y2="336.10" stroke="#262626" stroke-width="1.35" />
<line x1="312.74" y1="170.30" x2="312.74" y2="175.30" stroke="#262626" stroke-width="1.35" />
<text x="313.14" y="353.30" font-size="10.0" text-anchor="middle" >1.8</text>
<line x1="335.68" y1="341.10" x2="335.68" y2="336.10" stroke="#262626" stroke-width="1.35" />
<line x1="335.68" y1="170.30" x2="335.68" y2="175.30" stroke="#262626" stroke-width="1.35" />
<text x="336.08" y="353.30" font-size="10.0" text-anchor="middle" >2.0</text>
<line x1="358.62" y1="341.10" x2="358.62" y2="336.10" stroke="#262626" stroke-width="1.35" />
<line x1="358.62" y1="170.30" x2="358.62" y2="175.30" stroke="#262626" stroke-width="1.35" />
<text x="359.02" y="353.30" font-size="10.0" text-anchor="middle" >2.2</text>
<line x1="272.20" y1="340.07" x2="275.20" y2="340.07" stroke="#262626" stroke-width="1.35" />
<line x1="370.80" y1="340.07" x2="367.80" y2="340.07" stroke="#262626" stroke-width="1.35" />
<line x1="272.20" y1="334.92" x2="275.20" y2="334.92" stroke="#262626" stroke-width="1.35" />
<line x1="370.80" y1="334.92" x2="367.80" y2="334.92" stroke="#262626" stroke-width="1.35" />
<text x="270.60" y="337.52" font-size="7.6" text-anchor="end" >6</text>
<line x1="272.20" y1="330.57" x2="275.20" y2="330.57" stroke="#262626" stroke-width="1.35" />
<line x1="370.80" y1="330.57" x2="367.80" y2="330.57" stroke="#262626" stroke-width="1.35" />
<line x1="272.20" y1="326.80" x2="275.20" y2="326.80" stroke="#262626" stroke-width="1.35" />
<line x1="370.80" y1="326.80" x2="367.80" y2="326.80" stroke="#262626" stroke-width="1.35" />
<text x="270.60" y="329.40" font-size="7.6" text-anchor="end" >8</text>
<line x1="272.20" y1="323.47" x2="275.20" y2="323.47" stroke="#262626" stroke-width="1.35" />
<line x1="370.80" y1="323.47" x2="367.80" y2="323.47" stroke="#262626" stroke-width="1.35" />
<line x1="272.20" y1="320.50" x2="277.20" y2="320.50" stroke="#262626" stroke-width="1.35" />
<line x1="370.80" y1="320.50" x2="365.80" y2="320.50" stroke="#262626" stroke-width="1.35" />
<line x1="272.20" y1="300.93" x2="275.20" y2="300.93" stroke="#262626" stroke-width="1.35" />
<line x1="370.80" y1="300.93" x2="367.80" y2="300.93" stroke="#262626" stroke-width="1.35" />
<text x="270.60" y="303.53" font-size="7.6" text-anchor="end" >2</text>
<line x1="272.20" y1="289.49" x2="275.20" y2="289.49" stroke="#262626" stroke-width="1.35" />
<line x1="370.80" y1="289.49" x2="367.80" y2="289.49" stroke="#262626" stroke-width="1.35" />
<line x1="272.20" y1="281.37" x2="275.20" y2="281.37" stroke="#262626" stroke-width="1.35" />
<line x1="370.80" y1="281.37" x2="367.80" y2="281.37" stroke="#262626" stroke-width="1.35" />
<text x="270.60" y="283.97" font-size="7.6" text-anchor="end" >4</text>
<line x1="272.20" y1="275.07" x2="275.20" y2="275.07" stroke="#262626" stroke-width="1.35" />
<line x1="370.80" y1="275.07" x2="367.80" y2="275.07" stroke="#262626" stroke-width="1.35" />
<line x1="272.20" y1="269.92" x2="275.20" y2="269.92" stroke="#262626" stroke-width="1.35" />
<line x1="370.80" y1="269.92" x2="367.80" y2="269.92" stroke="#262626" stroke-width="1.35" />
<text x="270.60" y="272.52" font-size="7.6" text-anchor="end" >6</text>
<line x1="272.20" y1="265.57" x2="275.20" y2="265.57" stroke="#262626" stroke-width="1.35" />
<line x1="370.80" y1="265.57" x2="367.80" y2="265.57" stroke="#262626" stroke-width="1.35" />
<line x1="272.20" y1="261.80" x2="275.20" y2="261.80" stroke="#262626" stroke-width="1.35" />
<line x1="370.80" y1="261.80" x2="367.80" y2="261.80" stroke="#262626" stroke-width="1.35" />
<text x="270.60" y="264.40" font-size="7.6" text-anchor="end" >8</text>
<line x1="272.20" y1="258.47" x2="275.20" y2="258.47" stroke="#262626" stroke-width="1.35" />
<line x1="370.80" y1="258.47" x2="367.80" y2="258.47" stroke="#262626" stroke-width="1.35" />
<line x1="272.20" y1="255.50" x2="277.20" y2="255.50" stroke="#262626" stroke-width="1.35" />
<line x1="370.80" y1="255.50" x2="365.80" y2="255.50" stroke="#262626" stroke-width="1.35" />
<line x1="272.20" y1="235.93" x2="275.20" y2="235.93" stroke="#262626" stroke-width="1.35" />
<line x1="370.80" y1="235.93" x2="367.80" y2="235.93" stroke="#262626" stroke-width="1.35" />
<text x="270.60" y="238.53" font-size="7.6" text-anchor="end" >2</text>
<line x1="272.20" y1="224.49" x2="275.20" y2="224.49" stroke="#262626" stroke-width="1.35" />
<line x1="370.80" y1="224.49" x2="367.80" y2="224.49" stroke="#262626" stroke-width="1.35" />
<line x1="272.20" y1="216.37" x2="275.20" y2="216.37" stroke="#262626" stroke-width="1.35" />
<line x1="370.80" y1="216.37" x2="367.80" y2="216.37" stroke="#262626" stroke-width="1.35" />
<text x="270.60" y="218.97" font-size="7.6" text-anchor="end" >4</text>
<line x1="272.20" y1="210.07" x2="275.20" y2="210.07" stroke="#262626" stroke-width="1.35" />
<line x1="370.80" y1="210.07" x2="367.80" y2="210.07" stroke="#262626" stroke-width="1.35" />
<line x1="272.20" y1="204.92" x2="275.20" y2="204.92" stroke="#262626" stroke-width="1.35" />
<line x1="370.80" y1="204.92" x2="367.80" y2="204.92" stroke="#262626" stroke-width="1.35" />
<text x="270.60" y="207.52" font-size="7.6" text-anchor="end" >6</text>
<line x1="272.20" y1="200.57" x2="275.20" y2="200.57" stroke="#262626" stroke-width="1.35" />
<line x1="370.80" y1="200.57" x2="367.80" y2="200.57" stroke="#262626" stroke-width="1.35" />
<line x1="272.20" y1="196.80" x2="275.20" y2="196.80" stroke="#262626" stroke-width="1.35" />
<line x1="370.80" y1="196.80" x2="367.80" y2="196.80" stroke="#262626" stroke-width="1.35" />
<text x="270.60" y="199.40" font-size="7.6" text-anchor="end" >8</text>
<line x1="272.20" y1="193.47" x2="275.20" y2="193.47" stroke="#262626" stroke-width="1.35" />
<line x1="370.80" y1="193.47" x2="367.80" y2="193.47" stroke="#262626" stroke-width="1.35" />
<line x1="272.20" y1="190.50" x2="277.20" y2="190.50" stroke="#262626" stroke-width="1.35" />
<line x1="370.80" y1="190.50" x2="365.80" y2="190.50" stroke="#262626" stroke-width="1.35" />
<line x1="272.20" y1="170.93" x2="275.20" y2="170.93" stroke="#262626" stroke-width="1.35" />
<line x1="370.80" y1="170.93" x2="367.80" y2="170.93" stroke="#262626" stroke-width="1.35" />
<text x="270.60" y="173.53" font-size="7.6" text-anchor="end" >2</text>
<text x="266.4" y="195.80" font-size="10.2" text-anchor="end">10<tspan font-size="6.6" dy="-6.6">-1</tspan></text>
<text x="266.4" y="260.80" font-size="10.2" text-anchor="end">10<tspan font-size="6.6" dy="-6.6">-2</tspan></text>
<text x="266.4" y="325.80" font-size="10.2" text-anchor="end">10<tspan font-size="6.6" dy="-6.6">-3</tspan></text>
<text transform="translate(242.1,303.4) rotate(-90)" font-size="9.7" textLength="101" lengthAdjust="spacingAndGlyphs">Responsivity (mA/W)</text>
<text x="279.7" y="365.3" font-size="10.4" textLength="87.3" lengthAdjust="spacingAndGlyphs">Photon energy (eV)</text>
<text x="199.60" y="163.10" font-size="9.4" text-anchor="start" font-weight="bold" >d</text>
<text x="291.40" y="214.60" font-size="10.0" text-anchor="start" >A</text>
<text x="334.40" y="201.80" font-size="10.0" text-anchor="start" >B</text>
<line x1="282.60" y1="182.10" x2="296.60" y2="182.10" stroke="#a01c22" stroke-width="1.3" />
<line x1="282.60" y1="191.40" x2="296.60" y2="191.40" stroke="#4a6ad8" stroke-width="1.3" />
<text x="299.80" y="184.70" font-size="8.6" text-anchor="start" textLength="20.4" lengthAdjust="spacingAndGlyphs" >300 K</text>
<text x="299.80" y="194.40" font-size="8.6" text-anchor="start" textLength="12.2" lengthAdjust="spacingAndGlyphs" >5 K</text>
<clipPath id="cd"><rect x="272.2" y="170.3" width="98.6" height="170.8"/></clipPath>
<polyline points="272.70,265.82 273.20,265.96 273.70,265.99 274.20,266.30 274.70,266.49 275.20,266.42 275.70,266.64 276.20,266.64 276.70,266.96 277.20,267.06 277.70,267.24 278.20,266.57 278.70,265.00 279.20,263.41 279.70,262.37 280.20,260.91 280.70,259.89 281.20,258.36 281.70,256.99 282.20,255.71 282.70,254.44 283.20,252.80 283.70,251.37 284.20,249.75 284.70,248.46 285.20,246.92 285.70,245.41 286.20,243.80 286.70,242.14 287.20,240.50 287.70,239.02 288.20,237.12 288.70,235.79 289.20,234.61 289.70,233.54 290.20,232.12 290.70,231.01 291.20,229.60 291.70,228.87 292.20,227.83 292.70,227.32 293.20,226.53 293.70,225.75 294.20,225.04 294.70,224.43 295.20,224.04 295.70,223.73 296.20,223.39 296.70,223.23 297.20,222.97 297.70,223.00 298.20,222.90 298.70,222.90 299.20,222.68 299.70,223.37 300.20,223.18 300.70,223.65 301.20,223.81 301.70,224.24 302.20,224.23 302.70,224.73 303.20,224.98 303.70,225.38 304.20,225.43 304.70,225.85 305.20,225.95 305.70,226.22 306.20,226.23 306.70,226.54 307.20,226.58 307.70,226.91 308.20,226.91 308.70,227.39 309.20,227.47 309.70,227.83 310.20,227.96 310.70,228.31 311.20,228.32 311.70,228.37 312.20,228.29 312.70,228.53 313.20,228.37 313.70,228.84 314.20,228.68 314.70,228.91 315.20,228.76 315.70,229.03 316.20,229.05 316.70,229.10 317.20,228.87 317.70,228.88 318.20,228.94 318.70,228.87 319.20,228.67 319.70,229.01 320.20,228.68 320.70,228.50 321.20,228.22 321.70,228.20 322.20,227.93 322.70,227.62 323.20,227.40 323.70,227.41 324.20,227.13 324.70,226.93 325.20,226.36 325.70,226.51 326.20,226.32 326.70,226.22 327.20,226.05 327.70,225.82 328.20,225.42 328.70,225.51 329.20,225.09 329.70,225.03 330.20,224.74 330.70,224.79 331.20,224.27 331.70,224.25 332.20,224.04 332.70,223.96 333.20,223.51 333.70,223.39 334.20,222.99 334.70,222.89 335.20,222.42 335.70,222.23 336.20,221.84 336.70,221.40 337.20,220.92 337.70,220.86 338.20,220.36 338.70,220.19 339.20,219.85 339.70,219.55 340.20,219.25 340.70,219.04 341.20,218.78 341.70,218.90 342.20,218.37 342.70,218.37 343.20,218.03 343.70,217.84 344.20,217.65 344.70,217.53 345.20,217.21 345.70,216.96 346.20,216.59 346.70,216.53 347.20,216.50 347.70,216.88 348.20,216.74 348.70,217.01 349.20,217.00 349.70,217.37 350.20,217.26 350.70,217.81 351.20,217.55 351.70,217.95 352.20,218.19 352.70,218.51 353.20,218.43 353.70,218.50 354.20,218.17 354.70,218.27 355.20,217.91 355.70,217.74 356.20,217.53 356.70,217.36 357.20,217.04 357.70,217.02 358.20,216.64 358.70,216.69 359.20,216.34 359.70,216.24 360.20,215.91 360.70,215.71 361.20,215.21 361.70,215.14 362.20,214.77 362.70,214.66 363.20,214.33 363.70,214.29 364.20,213.60 364.70,213.30 365.20,212.53 365.70,212.38 366.20,211.65 366.70,211.22 367.20,210.54 367.70,210.24 368.20,209.76 368.70,209.32 369.20,208.66 369.70,208.79" fill="none" stroke="#8c1014" stroke-width="1.6" stroke-linejoin="round" stroke-linecap="round" clip-path="url(#cd)"/>
<polyline points="273.20,265.60 275.00,266.20 277.00,266.80 278.60,266.60 279.40,264.50" fill="none" stroke="#8c1014" stroke-width="2.6" stroke-linejoin="round" stroke-linecap="round" clip-path="url(#cd)"/>
<polyline points="286.50,319.90 287.00,318.50 287.50,317.24 288.00,315.90 288.50,314.20 289.00,311.81 289.50,310.20 290.00,307.50 290.50,303.77 291.00,299.93 291.50,296.46 292.00,290.93 292.50,285.16 293.00,279.01 293.50,271.56 294.00,263.09 294.50,254.19 295.00,249.09 295.50,245.60 296.00,241.76 296.50,238.26 297.00,234.38 297.50,231.23 298.00,227.51 298.50,224.94 299.00,222.35 299.50,220.27 300.00,218.61 300.50,217.65 301.00,216.50 301.50,216.55 302.00,216.06 302.50,216.14 303.00,216.33 303.50,216.40 304.00,216.85 304.50,217.34 305.00,217.63 305.50,218.34 306.00,218.81 306.50,219.66 307.00,220.28 307.50,221.02 308.00,221.80 308.50,222.60 309.00,223.19 309.50,223.84 310.00,224.34 310.50,224.96 311.00,225.21 311.50,225.53 312.00,225.59 312.50,225.94 313.00,226.06 313.50,226.19 314.00,226.37 314.50,226.81 315.00,226.59 315.50,226.78 316.00,226.94 316.50,226.75 317.00,226.38 317.50,226.36 318.00,225.91 318.50,225.56 319.00,224.99 319.50,224.71 320.00,224.15 320.50,223.88 321.00,223.55 321.50,223.28 322.00,223.06 322.50,222.81 323.00,222.39 323.50,222.21 324.00,221.73 324.50,221.68 325.00,221.29 325.50,221.02 326.00,220.81 326.50,220.65 327.00,220.14 327.50,219.91 328.00,219.36 328.50,219.54 329.00,219.05 329.50,218.72 330.00,218.50 330.50,218.24 331.00,218.01 331.50,217.77 332.00,217.45 332.50,216.94 333.00,215.96 333.50,215.36 334.00,214.49 334.50,213.62 335.00,212.85 335.50,212.19 336.00,211.15 336.50,210.55 337.00,209.61 337.50,209.06 338.00,208.20 338.50,207.49 339.00,206.72 339.50,206.13 340.00,205.13 340.50,204.59 341.00,203.58 341.50,203.06 342.00,202.38 342.50,201.68 343.00,200.78 343.50,200.22 344.00,199.45 344.50,198.82 345.00,198.01 345.50,197.49 346.00,197.01 346.50,196.75 347.00,196.14 347.50,195.97 348.00,195.50 348.50,195.19 349.00,194.54 349.50,194.62 350.00,194.53 350.50,194.51 351.00,194.56 351.50,194.68 352.00,194.61 352.50,194.75 353.00,194.74 353.50,194.75 354.00,194.44 354.50,194.53 355.00,194.27 355.50,194.26 356.00,193.72 356.50,193.89 357.00,193.53 357.50,193.63 358.00,193.26 358.50,193.06 359.00,192.64 359.50,192.54 360.00,192.18 360.50,192.06 361.00,191.57 361.50,191.35 362.00,191.22 362.50,190.68 363.00,190.37 363.50,189.97 364.00,189.19 364.50,188.92 365.00,188.19 365.50,187.67 366.00,186.95 366.50,186.49 367.00,185.59 367.50,185.34 368.00,184.58 368.50,184.24 369.00,183.70 369.50,183.37 370.00,182.51" fill="none" stroke="#3a64d8" stroke-width="1.3" stroke-linejoin="round" stroke-linecap="round" clip-path="url(#cd)"/>
<polygon points="272.30,341.00 272.30,320.20 274.10,320.70 276.80,321.30 277.90,324.50 279.50,320.20 280.60,315.30 281.20,321.30 282.30,321.80 283.30,320.20 284.40,318.00 285.50,315.80 287.10,313.70 288.20,311.50 288.90,341.00" fill="#5a72d4" clip-path="url(#cd)"/>
<polyline points="272.80,341.00 273.15,323.38 273.50,341.00 273.85,322.51 274.20,341.00 274.55,321.32 274.90,341.00 275.25,321.88 275.60,341.00 275.95,321.97 276.30,341.00 276.65,322.44 277.00,341.00 277.35,324.99 277.70,341.00 278.05,323.83 278.40,341.00 278.75,324.34 279.10,341.00 279.45,324.34 279.80,341.00 280.15,321.78 280.50,341.00 280.85,317.96 281.20,341.00 281.55,321.39 281.90,341.00 282.25,322.74 282.60,341.00 282.95,324.74 283.30,341.00 283.65,324.10 284.00,341.00 284.35,321.48 284.70,341.00 285.05,317.62 285.40,341.00 285.75,319.45 286.10,341.00 286.45,315.24 286.80,341.00 287.15,315.12 287.50,341.00 287.85,313.99 288.20,341.00 288.55,312.75" fill="none" stroke="#3c58cc" stroke-width="0.5" stroke-linejoin="round" stroke-linecap="round" stroke-linejoin="miter" clip-path="url(#cd)"/>
<line x1="272.20" y1="340.07" x2="275.20" y2="340.07" stroke="#262626" stroke-width="1.35" />
<line x1="272.20" y1="334.92" x2="275.20" y2="334.92" stroke="#262626" stroke-width="1.35" />
<line x1="272.20" y1="330.57" x2="275.20" y2="330.57" stroke="#262626" stroke-width="1.35" />
<line x1="272.20" y1="326.80" x2="275.20" y2="326.80" stroke="#262626" stroke-width="1.35" />
<line x1="272.20" y1="323.47" x2="275.20" y2="323.47" stroke="#262626" stroke-width="1.35" />
<line x1="272.20" y1="320.50" x2="277.20" y2="320.50" stroke="#262626" stroke-width="1.35" />
<line x1="272.20" y1="300.00" x2="272.20" y2="341.10" stroke="#262626" stroke-width="1.35" />
<rect x="319.4" y="235.6" width="42.80000000000001" height="80.4" fill="#fff" stroke="#262626" stroke-width="1.35"/>
<line x1="328.00" y1="316.00" x2="328.00" y2="313.00" stroke="#262626" stroke-width="1.35" />
<line x1="328.00" y1="235.60" x2="328.00" y2="238.60" stroke="#262626" stroke-width="1.35" />
<line x1="336.40" y1="316.00" x2="336.40" y2="313.00" stroke="#262626" stroke-width="1.35" />
<line x1="336.40" y1="235.60" x2="336.40" y2="238.60" stroke="#262626" stroke-width="1.35" />
<line x1="344.80" y1="316.00" x2="344.80" y2="313.00" stroke="#262626" stroke-width="1.35" />
<line x1="344.80" y1="235.60" x2="344.80" y2="238.60" stroke="#262626" stroke-width="1.35" />
<line x1="353.20" y1="316.00" x2="353.20" y2="313.00" stroke="#262626" stroke-width="1.35" />
<line x1="353.20" y1="235.60" x2="353.20" y2="238.60" stroke="#262626" stroke-width="1.35" />
<line x1="361.60" y1="316.00" x2="361.60" y2="313.00" stroke="#262626" stroke-width="1.35" />
<line x1="361.60" y1="235.60" x2="361.60" y2="238.60" stroke="#262626" stroke-width="1.35" />
<text x="328.70" y="325.00" font-size="6.6" text-anchor="middle" >1.6</text>
<text x="344.30" y="325.00" font-size="6.6" text-anchor="middle" >1.8</text>
<text x="359.50" y="325.00" font-size="6.6" text-anchor="middle" >2.0</text>
<line x1="319.40" y1="297.15" x2="322.40" y2="297.15" stroke="#262626" stroke-width="1.35" />
<line x1="362.20" y1="297.15" x2="359.20" y2="297.15" stroke="#262626" stroke-width="1.35" />
<text x="317.00" y="299.45" font-size="6.6" text-anchor="end" >0.01</text>
<line x1="319.40" y1="280.00" x2="322.40" y2="280.00" stroke="#262626" stroke-width="1.35" />
<line x1="362.20" y1="280.00" x2="359.20" y2="280.00" stroke="#262626" stroke-width="1.35" />
<text x="317.00" y="282.30" font-size="6.6" text-anchor="end" >0.02</text>
<line x1="319.40" y1="262.85" x2="322.40" y2="262.85" stroke="#262626" stroke-width="1.35" />
<line x1="362.20" y1="262.85" x2="359.20" y2="262.85" stroke="#262626" stroke-width="1.35" />
<text x="317.00" y="265.15" font-size="6.6" text-anchor="end" >0.03</text>
<line x1="319.40" y1="245.70" x2="322.40" y2="245.70" stroke="#262626" stroke-width="1.35" />
<line x1="362.20" y1="245.70" x2="359.20" y2="245.70" stroke="#262626" stroke-width="1.35" />
<text x="317.00" y="248.00" font-size="6.6" text-anchor="end" >0.04</text>
<text x="312.60" y="316.60" font-size="6.6" text-anchor="end" >0</text>
<text x="332.2" y="333.2" font-size="7.0" textLength="18.6" lengthAdjust="spacingAndGlyphs">E (eV)</text>
<text transform="translate(304.2,290.7) rotate(-90)" font-size="6.8" textLength="34.7" lengthAdjust="spacingAndGlyphs">R (mA/W)</text>
<clipPath id="ci"><rect x="319.4" y="235.6" width="42.80000000000001" height="80.4"/></clipPath>
<polyline points="320.00,314.00 325.00,313.60 329.00,313.00 331.00,308.00 332.10,300.00 333.60,275.00 334.60,264.30 336.10,250.10 337.30,244.10 338.50,247.50 340.20,255.20 342.70,262.80 346.30,266.80 349.80,262.30 353.90,256.20 356.90,251.10 358.40,246.60 359.40,241.50 360.50,238.00 361.50,235.60" fill="none" stroke="#2c46c8" stroke-width="1.6" stroke-linejoin="round" stroke-linecap="round" stroke-dasharray="1.3,0.8" stroke-linecap="butt" clip-path="url(#ci)"/>
<polyline points="319.60,314.40 325.00,314.30 329.00,313.50 331.00,309.00 332.10,300.00 333.60,275.00 334.60,264.30 336.10,250.10 337.30,244.10 339.00,249.00 341.20,260.30 342.20,270.40 343.00,280.00 344.50,290.00 346.00,302.00 349.00,310.00 354.00,314.00 362.00,314.40" fill="none" stroke="#111" stroke-width="1.2" stroke-linejoin="round" stroke-linecap="round" stroke-dasharray="2.0,1.5" stroke-linecap="butt" clip-path="url(#ci)"/>
</svg></body></html>
